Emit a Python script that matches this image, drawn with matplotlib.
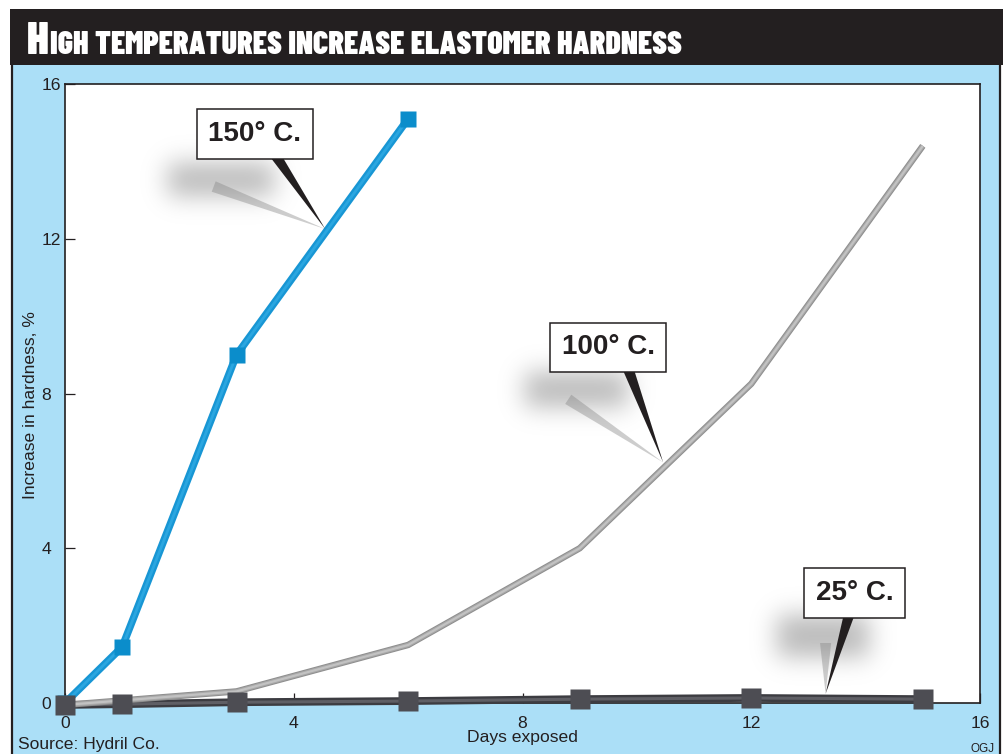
import numpy as np
import matplotlib
matplotlib.use("Agg")
import matplotlib.pyplot as plt
from matplotlib import font_manager as fm
from matplotlib.patches import Rectangle, FancyArrowPatch
from matplotlib.lines import Line2D

# ---- data -----------------------------------------------------------------
days_150 = [0, 1, 3, 6]
hard_150 = [0.0, 1.45, 9.0, 15.1]

days_100 = [0, 3, 6, 9, 12, 15]
hard_100 = [-0.05, 0.3, 1.5, 4.0, 8.25, 14.4]

days_25 = [0, 1, 3, 6, 9, 12, 15]
hard_25 = [-0.05, -0.03, 0.02, 0.05, 0.1, 0.13, 0.1]

x_ticks = [0, 4, 8, 12, 16]
y_ticks = [0, 4, 8, 12, 16]

labels = ["150° C.", "100° C.", "25° C."]

# ---- style ----------------------------------------------------------------
W, H = 1008, 754
BG_BLUE = "#abdff7"
INK = "#231f20"
BLUE = "#1896d4"
BLUE_HI = "#2ba6e0"
BLUE_MK = "#0b8dcb"
GRAY_OUT = "#8e8e8e"
GRAY_MID = "#a8a8a8"
GRAY_IN = "#c2c2c2"
DARK_OUT = "#3c3c41"
DARK_IN = "#5f5f65"
DARK_MK = "#4d4d53"

names = {f.name for f in fm.fontManager.ttflist}
SANS = "Liberation Sans" if "Liberation Sans" in names else "DejaVu Sans"
COND = "Barlow Condensed" if "Barlow Condensed" in names else SANS

plt.rcParams["font.family"] = [SANS, "DejaVu Sans"]
LABEL_SIZE = 12.6


def fx(px):
    return px / W


def fy(py):
    return 1 - py / H


fig = plt.figure(figsize=(W / 100, H / 100), dpi=100, facecolor="white")

# frame: light blue panel, black title bar, outer rules
fig.add_artist(Rectangle((fx(12), 0), fx(1000) - fx(12), fy(65),
                         transform=fig.transFigure, fc=BG_BLUE, ec="none", zorder=0))
fig.add_artist(Rectangle((fx(10), fy(65)), fx(1003) - fx(10), fy(9) - fy(65),
                         transform=fig.transFigure, fc=INK, ec="none", zorder=0))
for xp in (12, 1000):
    fig.add_artist(Line2D([fx(xp), fx(xp)], [0, fy(65)], transform=fig.transFigure,
                          color=INK, lw=1.6, zorder=1))

# title in condensed small caps: large initial, smaller remainder
t1 = fig.text(fx(27), fy(54), "H", color="white", fontsize=32.5, fontweight=900,
              family=COND, va="baseline", ha="left")
fig.canvas.draw()
bb = t1.get_window_extent()
fig.text(bb.x1 / W + fx(1), fy(54), "IGH TEMPERATURES INCREASE ELASTOMER HARDNESS",
         color="white", fontsize=23, fontweight=900, family=COND,
         va="baseline", ha="left")

# ---- axes -----------------------------------------------------------------
ax = fig.add_axes([fx(65), fy(703), fx(980) - fx(65), fy(84) - fy(703)])
ax.set_facecolor("white")
ax.set_zorder(2)

sx = (980 - 65) / 16.0
sy = (703 - 84) / 16.0


def gauss_kernel(sigma):
    r = int(3 * sigma)
    t = np.arange(-r, r + 1)
    k = np.exp(-0.5 * (t / sigma) ** 2)
    return k / k.sum()


def shadow_blob(x0, x1, y0, y1, sigma=12, margin=38, peak=0.55):
    w = int(round((x1 - x0) * sx)) + 2 * margin
    h = int(round((y1 - y0) * sy)) + 2 * margin
    m = np.zeros((h, w))
    m[margin:h - margin, margin:w - margin] = 1.0
    k = gauss_kernel(sigma)
    m = np.apply_along_axis(lambda r: np.convolve(r, k, mode="same"), 1, m)
    m = np.apply_along_axis(lambda c: np.convolve(c, k, mode="same"), 0, m)
    rgba = np.zeros((h, w, 4))
    rgba[..., :3] = 0.52
    rgba[..., 3] = m * peak
    ext = [x0 - margin / sx, x1 + margin / sx, y0 - margin / sy, y1 + margin / sy]
    ax.imshow(rgba, extent=ext, origin="lower", aspect="auto",
              interpolation="bilinear", zorder=2)


def callout(text, box_xy, tip_xy, base_rel, blob, shadow_from):
    # soft drop shadow and its faint pointer
    ax.add_patch(FancyArrowPatch(shadow_from, tip_xy,
                                 arrowstyle="wedge,tail_width=0.8,shrink_factor=0.5",
                                 mutation_scale=10, fc="#cdcdcd", ec="none",
                                 shrinkA=0, shrinkB=0, zorder=1.8))
    shadow_blob(*blob)
    ax.annotate(text, xy=tip_xy, xytext=box_xy, xycoords="data", textcoords="data",
                ha="center", va="center", fontsize=20, fontweight="bold", color=INK,
                bbox=dict(boxstyle="square,pad=0.42", fc="white", ec=INK, lw=1.1),
                arrowprops=dict(arrowstyle="wedge,tail_width=0.42,shrink_factor=0.5",
                                fc=INK, ec="none", relpos=base_rel,
                                shrinkA=0, shrinkB=0, patchA=None),
                zorder=6)


def tube(x, y, layers, z):
    # shaded tube: successive narrower, lighter strokes along the same path
    for i, (c, lw) in enumerate(layers):
        ax.plot(x, y, color=c, lw=lw, solid_capstyle="butt",
                solid_joinstyle="miter", zorder=z + 0.01 * i, clip_on=False)


# series
tube(days_25, hard_25, [(DARK_OUT, 5.6), (DARK_IN, 2.2)], 3)
tube(days_100, hard_100, [(GRAY_OUT, 4.6), (GRAY_MID, 3.2), (GRAY_IN, 1.6)], 3.1)
tube(days_150, hard_150, [(BLUE, 5.4), (BLUE_HI, 2.0)], 3.2)
ax.plot(days_150, hard_150, ls="none", marker="s", ms=12, mfc=BLUE_MK, mec="none",
        zorder=4, clip_on=False)
ax.plot(days_25, hard_25, ls="none", marker="s", ms=14.5, mfc=DARK_MK, mec="none",
        zorder=4.1, clip_on=False)

# callouts
d150 = 4.55
callout(labels[0], (3.32, 14.71), (d150, np.interp(d150, days_150, hard_150) + 0.1),
        (0.66, 0.0), (1.8, 3.65, 13.1, 13.95), (2.6, 13.35))
d100 = 10.46
callout(labels[1], (9.5, 9.19), (d100, np.interp(d100, days_100, hard_100) + 0.15),
        (0.68, 0.0), (8.05, 9.85, 7.65, 8.55), (8.8, 7.85))
d25 = 13.3
callout(labels[2], (13.81, 2.84), (d25, np.interp(d25, days_25, hard_25) + 0.12),
        (0.46, 0.0), (12.45, 14.05, 1.18, 2.26), (13.3, 1.55))

ax.set_xlim(0, 16)
ax.set_ylim(0, 16)
ax.set_xticks(x_ticks)
ax.set_yticks(y_ticks)
ax.tick_params(direction="in", length=7, width=0.9, color=INK, labelsize=LABEL_SIZE,
               labelcolor=INK)
ax.tick_params(axis="y", pad=17)
ax.tick_params(axis="x", pad=9)
for lab in ax.get_yticklabels():
    lab.set_horizontalalignment("left")
for s in ax.spines.values():
    s.set_color(INK)
    s.set_linewidth(1.2)

ax.set_xlabel("Days exposed", fontsize=LABEL_SIZE, color=INK)
ax.set_ylabel("Increase in hardness, %", fontsize=LABEL_SIZE, color=INK)
ax.xaxis.set_label_coords(0.5, (703 - 730) / 619.0)
ax.yaxis.set_label_coords((38 - 65) / 915.0, (703 - 405) / 619.0)

fig.text(fx(18), fy(745), "Source: Hydril Co.", fontsize=LABEL_SIZE, color=INK,
         ha="left", va="center")
fig.text(fx(983), fy(749), "OGJ", fontsize=8.5, color=INK, ha="center", va="center")

fig.savefig("out.png", dpi=100, facecolor="white")
